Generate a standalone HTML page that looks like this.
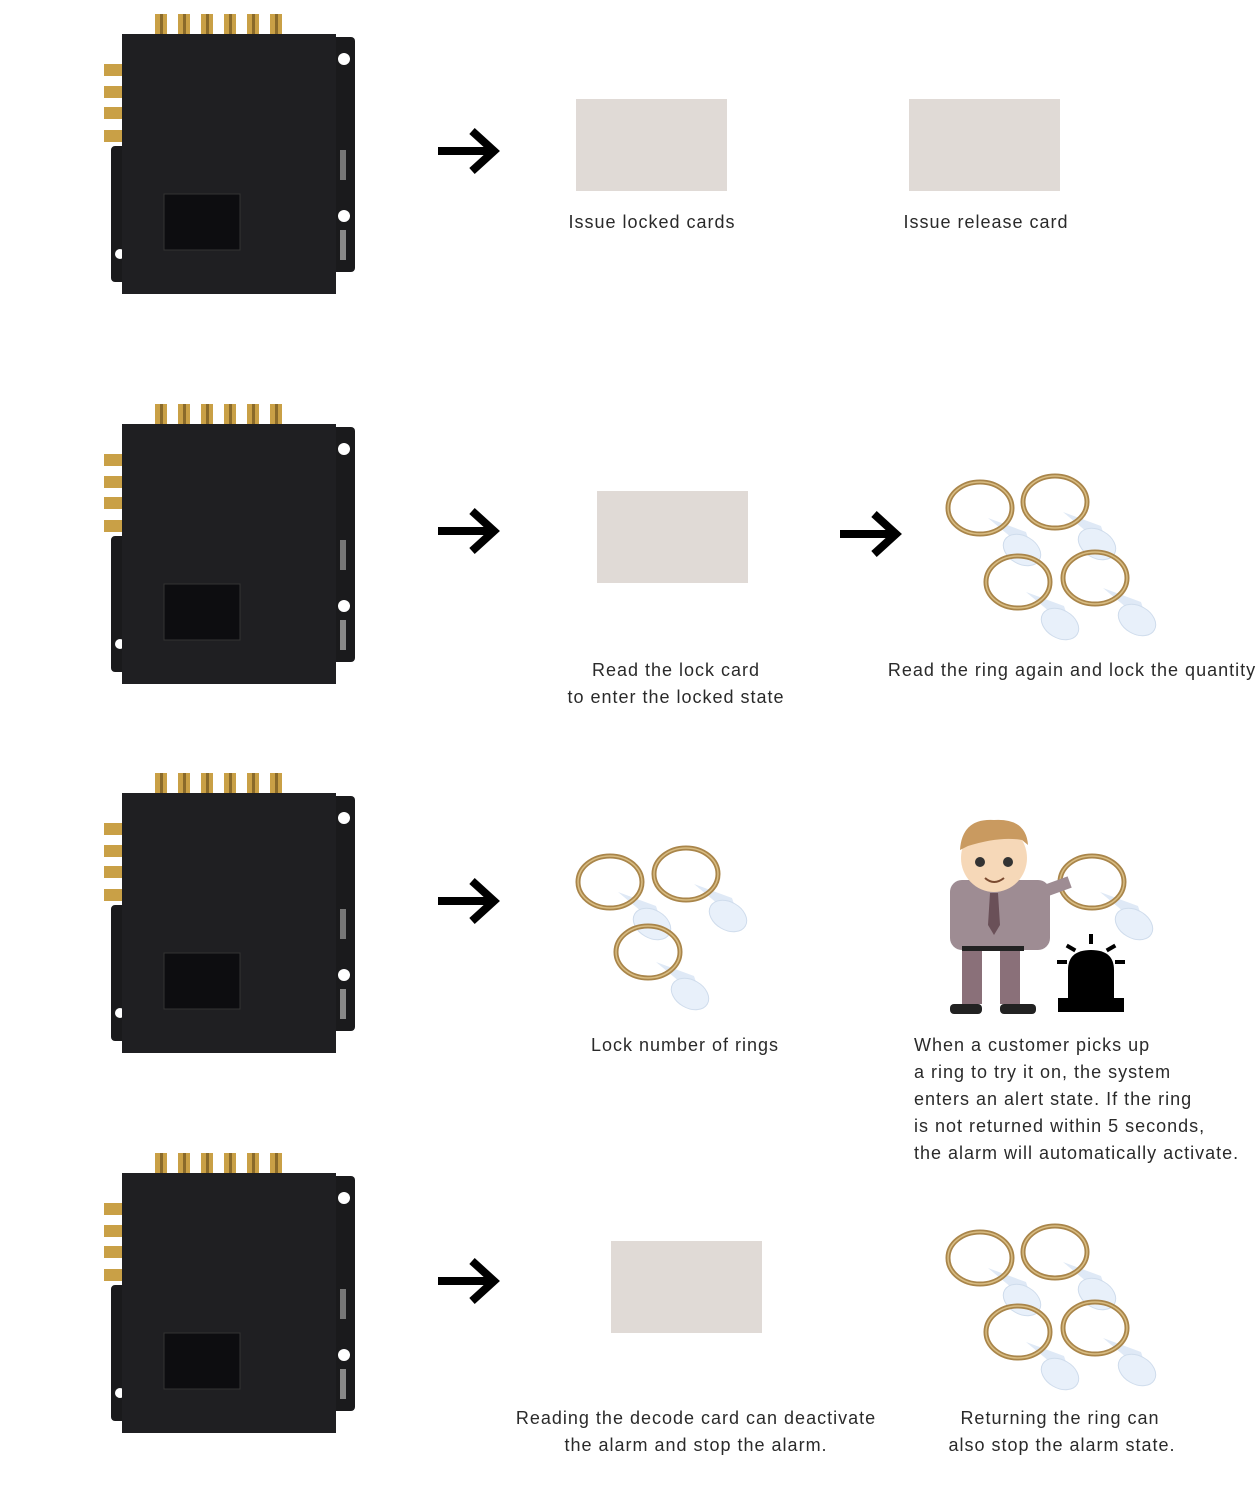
<!DOCTYPE html>
<html><head><meta charset="utf-8"><style>
body{margin:0;background:#fff;}
svg{display:block}
text{font-family:"Liberation Sans",sans-serif;font-size:18px;fill:#2a2a2a;letter-spacing:1px}
</style></head><body>
<svg width="1257" height="1509" viewBox="0 0 1257 1509" xmlns="http://www.w3.org/2000/svg">
<defs>
<g id="dev">
  <rect x="111" y="146" width="18" height="136" rx="4" fill="#1a1a1c"/>
  <circle cx="120" cy="254" r="5" fill="#fff"/>
  <rect x="330" y="37" width="25" height="235" rx="4" fill="#1a1a1c"/>
  <circle cx="344" cy="59" r="6" fill="#fff"/><circle cx="344" cy="216" r="6" fill="#fff"/>
  <rect x="340" y="150" width="6" height="30" fill="#777"/>
  <rect x="340" y="230" width="6" height="30" fill="#888"/>
  <g fill="#c9a046">
    <rect x="155" y="14" width="12" height="22"/><rect x="178" y="14" width="12" height="22"/>
    <rect x="201" y="14" width="12" height="22"/><rect x="224" y="14" width="12" height="22"/>
    <rect x="247" y="14" width="12" height="22"/><rect x="270" y="14" width="12" height="22"/>
    <rect x="104" y="64" width="24" height="12"/><rect x="104" y="86" width="24" height="12"/>
    <rect x="104" y="107" width="24" height="12"/><rect x="104" y="130" width="24" height="12"/>
  </g>
  <g fill="#8a6a2a"><rect x="160" y="14" width="3" height="22"/><rect x="183" y="14" width="3" height="22"/><rect x="206" y="14" width="3" height="22"/><rect x="229" y="14" width="3" height="22"/><rect x="252" y="14" width="3" height="22"/><rect x="275" y="14" width="3" height="22"/></g>
  <rect x="122" y="34" width="214" height="260" fill="#1f1f22"/>
  <rect x="164" y="194" width="76" height="56" fill="#0d0d10" stroke="#333" stroke-width="1"/>
</g>
<g id="arr"><rect x="0" y="-4" width="50" height="8" fill="#000"/><polyline points="34,-20 56,0 34,20" fill="none" stroke="#000" stroke-width="8"/></g>
<g id="ring">
  <path d="M38,40 L62,60 Q70,70 80,66 L76,54 Z" fill="#dfe9f6"/>
  <ellipse cx="72" cy="72" rx="20" ry="14" transform="rotate(30 72 72)" fill="#e8f0fa" stroke="#cfdcec" stroke-width="1"/>
  <ellipse cx="30" cy="30" rx="32" ry="26" fill="none" stroke="#a9854a" stroke-width="5"/>
  <ellipse cx="30" cy="30" rx="32" ry="26" fill="none" stroke="#d8bc82" stroke-width="1.5"/>
</g>
</defs>
<use href="#dev"/>
<use href="#dev" y="390"/>
<use href="#dev" y="759"/>
<use href="#dev" y="1139"/>
<use href="#arr" x="438" y="151"/>
<use href="#arr" x="438" y="531"/>
<use href="#arr" x="840" y="534"/>
<use href="#arr" x="438" y="901"/>
<use href="#arr" x="438" y="1281"/>
<g fill="#e0dad6">
<rect x="576" y="99" width="151" height="92"/><rect x="909" y="99" width="151" height="92"/>
<rect x="597" y="491" width="151" height="92"/><rect x="611" y="1241" width="151" height="92"/>
</g>
<use href="#ring" x="950" y="478"/><use href="#ring" x="1025" y="472"/>
<use href="#ring" x="988" y="552"/><use href="#ring" x="1065" y="548"/>
<use href="#ring" x="580" y="852"/><use href="#ring" x="656" y="844"/>
<use href="#ring" x="618" y="922"/>
<use href="#ring" x="950" y="1228"/><use href="#ring" x="1025" y="1222"/>
<use href="#ring" x="988" y="1302"/><use href="#ring" x="1065" y="1298"/>
<use href="#ring" x="1062" y="852"/>
<g>
  <rect x="950" y="880" width="100" height="70" rx="12" fill="#9e8c93"/>
  <rect x="1030" y="890" width="40" height="12" fill="#9e8c93" transform="rotate(-20 1030 890)"/>
  <rect x="962" y="948" width="20" height="56" fill="#8a7079"/><rect x="1000" y="948" width="20" height="56" fill="#8a7079"/>
  <rect x="962" y="946" width="62" height="5" fill="#222"/>
  <rect x="950" y="1004" width="32" height="10" rx="4" fill="#222"/><rect x="1000" y="1004" width="36" height="10" rx="4" fill="#222"/>
  <ellipse cx="994" cy="858" rx="33" ry="34" fill="#f6d8b8"/>
  <path d="M960,850 Q962,818 994,820 Q1026,818 1028,845 L1022,840 Q1000,836 968,846 Z" fill="#c99a60"/>
  <circle cx="980" cy="862" r="5" fill="#333"/><circle cx="1008" cy="862" r="5" fill="#333"/>
  <path d="M985,878 Q994,886 1004,878" fill="none" stroke="#7a4a30" stroke-width="2"/>
  <polygon points="990,893 998,893 1000,925 994,935 988,925" fill="#6a5058"/>
</g>
<g fill="#000">
  <rect x="1058" y="998" width="66" height="14"/>
  <path d="M1068,998 L1068,970 Q1068,950 1091,950 Q1114,950 1114,970 L1114,998 Z"/>
  <rect x="1089" y="934" width="4" height="10"/>
  <rect x="1066" y="946" width="10" height="4" transform="rotate(30 1071 948)"/>
  <rect x="1106" y="946" width="10" height="4" transform="rotate(-30 1111 948)"/>
  <rect x="1057" y="960" width="10" height="4"/><rect x="1115" y="960" width="10" height="4"/>
</g>
<text x="652" y="228" text-anchor="middle">Issue locked cards</text>
<text x="986" y="228" text-anchor="middle">Issue release card</text>
<text x="676" y="676" text-anchor="middle">Read the lock card</text>
<text x="676" y="703" text-anchor="middle">to enter the locked state</text>
<text x="1072" y="676" text-anchor="middle">Read the ring again and lock the quantity</text>
<text x="685" y="1051" text-anchor="middle">Lock number of rings</text>
<text x="914" y="1051">When a customer picks up</text>
<text x="914" y="1078">a ring to try it on, the system</text>
<text x="914" y="1105">enters an alert state. If the ring</text>
<text x="914" y="1132">is not returned within 5 seconds,</text>
<text x="914" y="1159">the alarm will automatically activate.</text>
<text x="696" y="1424" text-anchor="middle">Reading the decode card can deactivate</text>
<text x="696" y="1451" text-anchor="middle">the alarm and stop the alarm.</text>
<text x="1060" y="1424" text-anchor="middle">Returning the ring can</text>
<text x="1062" y="1451" text-anchor="middle">also stop the alarm state.</text>
</svg>
</body></html>
